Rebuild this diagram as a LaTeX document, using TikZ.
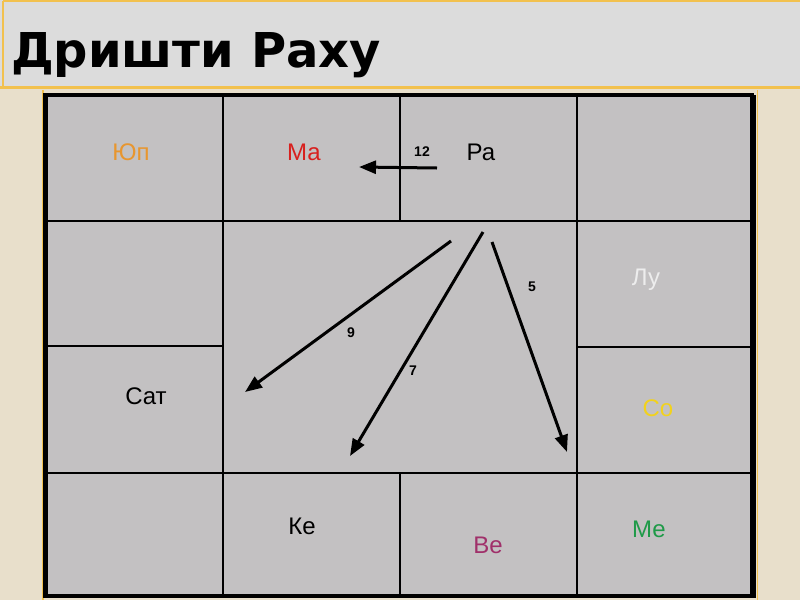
\documentclass[tikz,border=0pt]{standalone}
\usepackage{fontspec}
\setmainfont{Liberation Sans}
\newfontfamily\titlefont{DejaVu Sans}
\usetikzlibrary{arrows.meta}
\definecolor{bgbeige}{HTML}{E8DFCB}
\definecolor{bandgray}{HTML}{DCDCDC}
\definecolor{bandline}{HTML}{F2C14E}
\definecolor{cellgray}{HTML}{C3C1C2}
\definecolor{cjup}{HTML}{E8962E}
\definecolor{cma}{HTML}{D8201E}
\definecolor{clu}{HTML}{EDEDED}
\definecolor{cso}{HTML}{F2D21C}
\definecolor{cve}{HTML}{A0306A}
\definecolor{cme}{HTML}{1F9A48}
\tikzset{
  lbl/.style={font=\fontsize{24}{26}\selectfont, inner sep=0pt},
  num/.style={font=\bfseries\fontsize{14}{15}\selectfont, inner sep=0pt},
  gridline/.style={line width=2.6pt, black},
  aspect/.style={line width=3pt, -{Triangle[length=17pt,width=13pt]}}
}
\begin{document}
\begin{tikzpicture}[x=1pt,y=-1pt]
\useasboundingbox (0,0) rectangle (800,600);
% background
\fill[bgbeige] (0,0) rectangle (800,600);
% title band
\fill[bandgray] (0,0) rectangle (800,88);
\draw[bandline, line width=2pt] (3,1) -- (800,1);
\draw[bandline, line width=3pt] (0,87) -- (800,87);
\draw[bandline, line width=2pt] (3,1) -- (3,87);
\node[anchor=base west, inner sep=0pt, font=\titlefont\bfseries\fontsize{48}{52}\selectfont] (title) at (11,67) {Дришти Раху};
% yellow frame lines near the grid
\draw[bandline, line width=1.5pt] (43,90) -- (43,600);
\draw[bandline, line width=1.5pt] (757.5,90) -- (757.5,600);
% grid
\fill[cellgray] (45,95) rectangle (752,596);
\draw[gridline] (223,95) -- (223,596);
\draw[gridline] (577,95) -- (577,596);
\draw[gridline] (400,95) -- (400,221);
\draw[gridline] (400,473) -- (400,596);
\draw[gridline] (45,221) -- (752,221);
\draw[gridline] (45,473) -- (752,473);
\draw[gridline] (45,346) -- (223,346);
\draw[gridline] (577,347) -- (752,347);
\draw[line width=4.5pt] (45.5,95) rectangle (752,596);
\draw[line width=4pt] (753.5,95) -- (753.5,598);
% labels
\node[lbl, text=cjup] (jup) at (131,152) {Юп};
\node[lbl, text=cma] (ma) at (304,152) {Ма};
\node[lbl] (ra) at (481,152) {Ра};
\node[lbl, text=clu] (lu) at (646,280) {Лу};
\node[lbl] (sat) at (146,396) {Сат};
\node[lbl, text=cso] (so) at (658,408) {Со};
\node[lbl] (ke) at (302,526) {Ке};
\node[lbl, text=cve] (ve) at (488,545) {Ве};
\node[lbl, text=cme] (me) at (649,529) {Ме};
% arrow end points
\coordinate (a12s) at (437,168);
\coordinate (a12e) at (359,167);
\coordinate (a9s) at (451,241);
\coordinate (a9e) at (245,392);
\coordinate (a7s) at (483,232);
\coordinate (a7e) at (350,456);
\coordinate (a5s) at (492,242);
\coordinate (a5e) at (567,452);
\draw[aspect] (a12s) -- (a12e);
\draw[aspect] (a9s) -- (a9e);
\draw[aspect] (a7s) -- (a7e);
\draw[aspect] (a5s) -- (a5e);
% numbers
\node[num] (n12) at (422,152) {12};
\node[num] (n9) at (351,333) {9};
\node[num] (n7) at (413,371) {7};
\node[num] (n5) at (532,287) {5};
\end{tikzpicture}
\end{document}
